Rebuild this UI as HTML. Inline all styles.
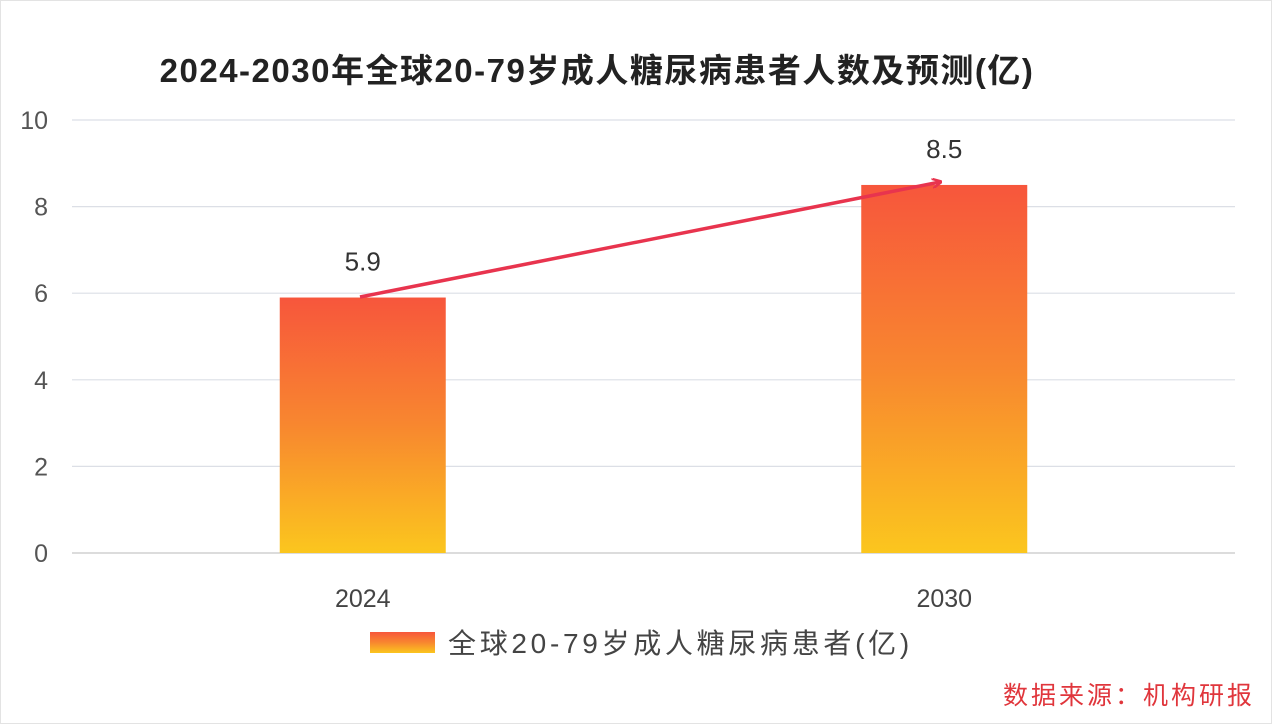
<!DOCTYPE html>
<html><head><meta charset="utf-8">
<style>
html,body{margin:0;padding:0;background:#fff;}
svg{display:block;font-family:"Liberation Sans","Noto Sans CJK SC",sans-serif;}
</style></head><body>
<svg id="chart" width="1272" height="724" viewBox="0 0 1272 724">
<defs>
<linearGradient id="barGrad" x1="0" y1="0" x2="0" y2="1">
<stop offset="0" stop-color="#f7563c"/>
<stop offset="0.5" stop-color="#f8872f"/>
<stop offset="1" stop-color="#fbc61e"/>
</linearGradient>
<marker id="arrowHead" markerWidth="10" markerHeight="10" refX="8" refY="5" orient="auto" markerUnits="userSpaceOnUse">
<path d="M0,0 L10,5 L0,10" fill="none" stroke="#e8344e" stroke-width="2.5"/>
</marker>
</defs>
<rect x="0.5" y="0.5" width="1271" height="723" fill="#fff" stroke="#e3e3e3"/>
<text x="597" y="82" text-anchor="middle" font-size="33" font-weight="bold" letter-spacing="1.5" fill="#222">2024-2030年全球20-79岁成人糖尿病患者人数及预测(亿)</text>
<g id="grid"></g>
<g id="bars"></g>
<line x1="360" y1="297" x2="940" y2="182" stroke="#e8344e" stroke-width="3.5" marker-end="url(#arrowHead)"/>
<rect x="370" y="632" width="65" height="21" fill="url(#barGrad)"/>
<text x="448" y="653" font-size="28" letter-spacing="3.7" fill="#444">全球20-79岁成人糖尿病患者(亿)</text>
<text x="1255" y="704" text-anchor="end" font-size="25" letter-spacing="3" fill="#e0363c">数据来源：机构研报</text>
</svg>
<script>
const categories = ["2024", "2030"];
const values = [5.9, 8.5];
const valueLabels = ["5.9", "8.5"];
const yTicks = [0, 2, 4, 6, 8, 10];

const svg = document.getElementById('chart');
const NS = 'http://www.w3.org/2000/svg';
const plotL = 72, plotR = 1235, plotT = 120, plotB = 553, yMax = 10;
const y = v => plotB - (v / yMax) * (plotB - plotT);
const band = (plotR - plotL) / categories.length;
const xc = i => plotL + band * (i + 0.5);
const barW = 166;
function mk(tag, attrs, parent, txt) {
  const e = document.createElementNS(NS, tag);
  for (const k in attrs) e.setAttribute(k, attrs[k]);
  if (txt !== undefined) e.textContent = txt;
  parent.appendChild(e);
  return e;
}
const grid = document.getElementById('grid');
yTicks.forEach(t => {
  const l = mk('line', {x1: plotL, x2: plotR, y1: y(t), y2: y(t), stroke: t === 0 ? '#c8c8c8' : '#dcdfe6', 'stroke-width': 1.2}, grid);
  
  
  const tx = mk('text', {x: 48, y: y(t) + 9, 'text-anchor': 'end', 'font-size': 25, fill: '#555'}, grid, String(t));
  
  
});
const bars = document.getElementById('bars');
categories.forEach((c, i) => {
  const r = mk('rect', {x: xc(i) - barW / 2, y: y(values[i]), width: barW, height: plotB - y(values[i]), fill: 'url(#barGrad)'}, bars);
  
  
  const vl = mk('text', {x: xc(i), y: y(values[i]) - 27, 'text-anchor': 'middle', 'font-size': 26, fill: '#333'}, bars, valueLabels[i]);
  
  
  const xl = mk('text', {x: xc(i), y: 607, 'text-anchor': 'middle', 'font-size': 25, fill: '#444'}, bars, c);
  
  
});
</script>
</body></html>
